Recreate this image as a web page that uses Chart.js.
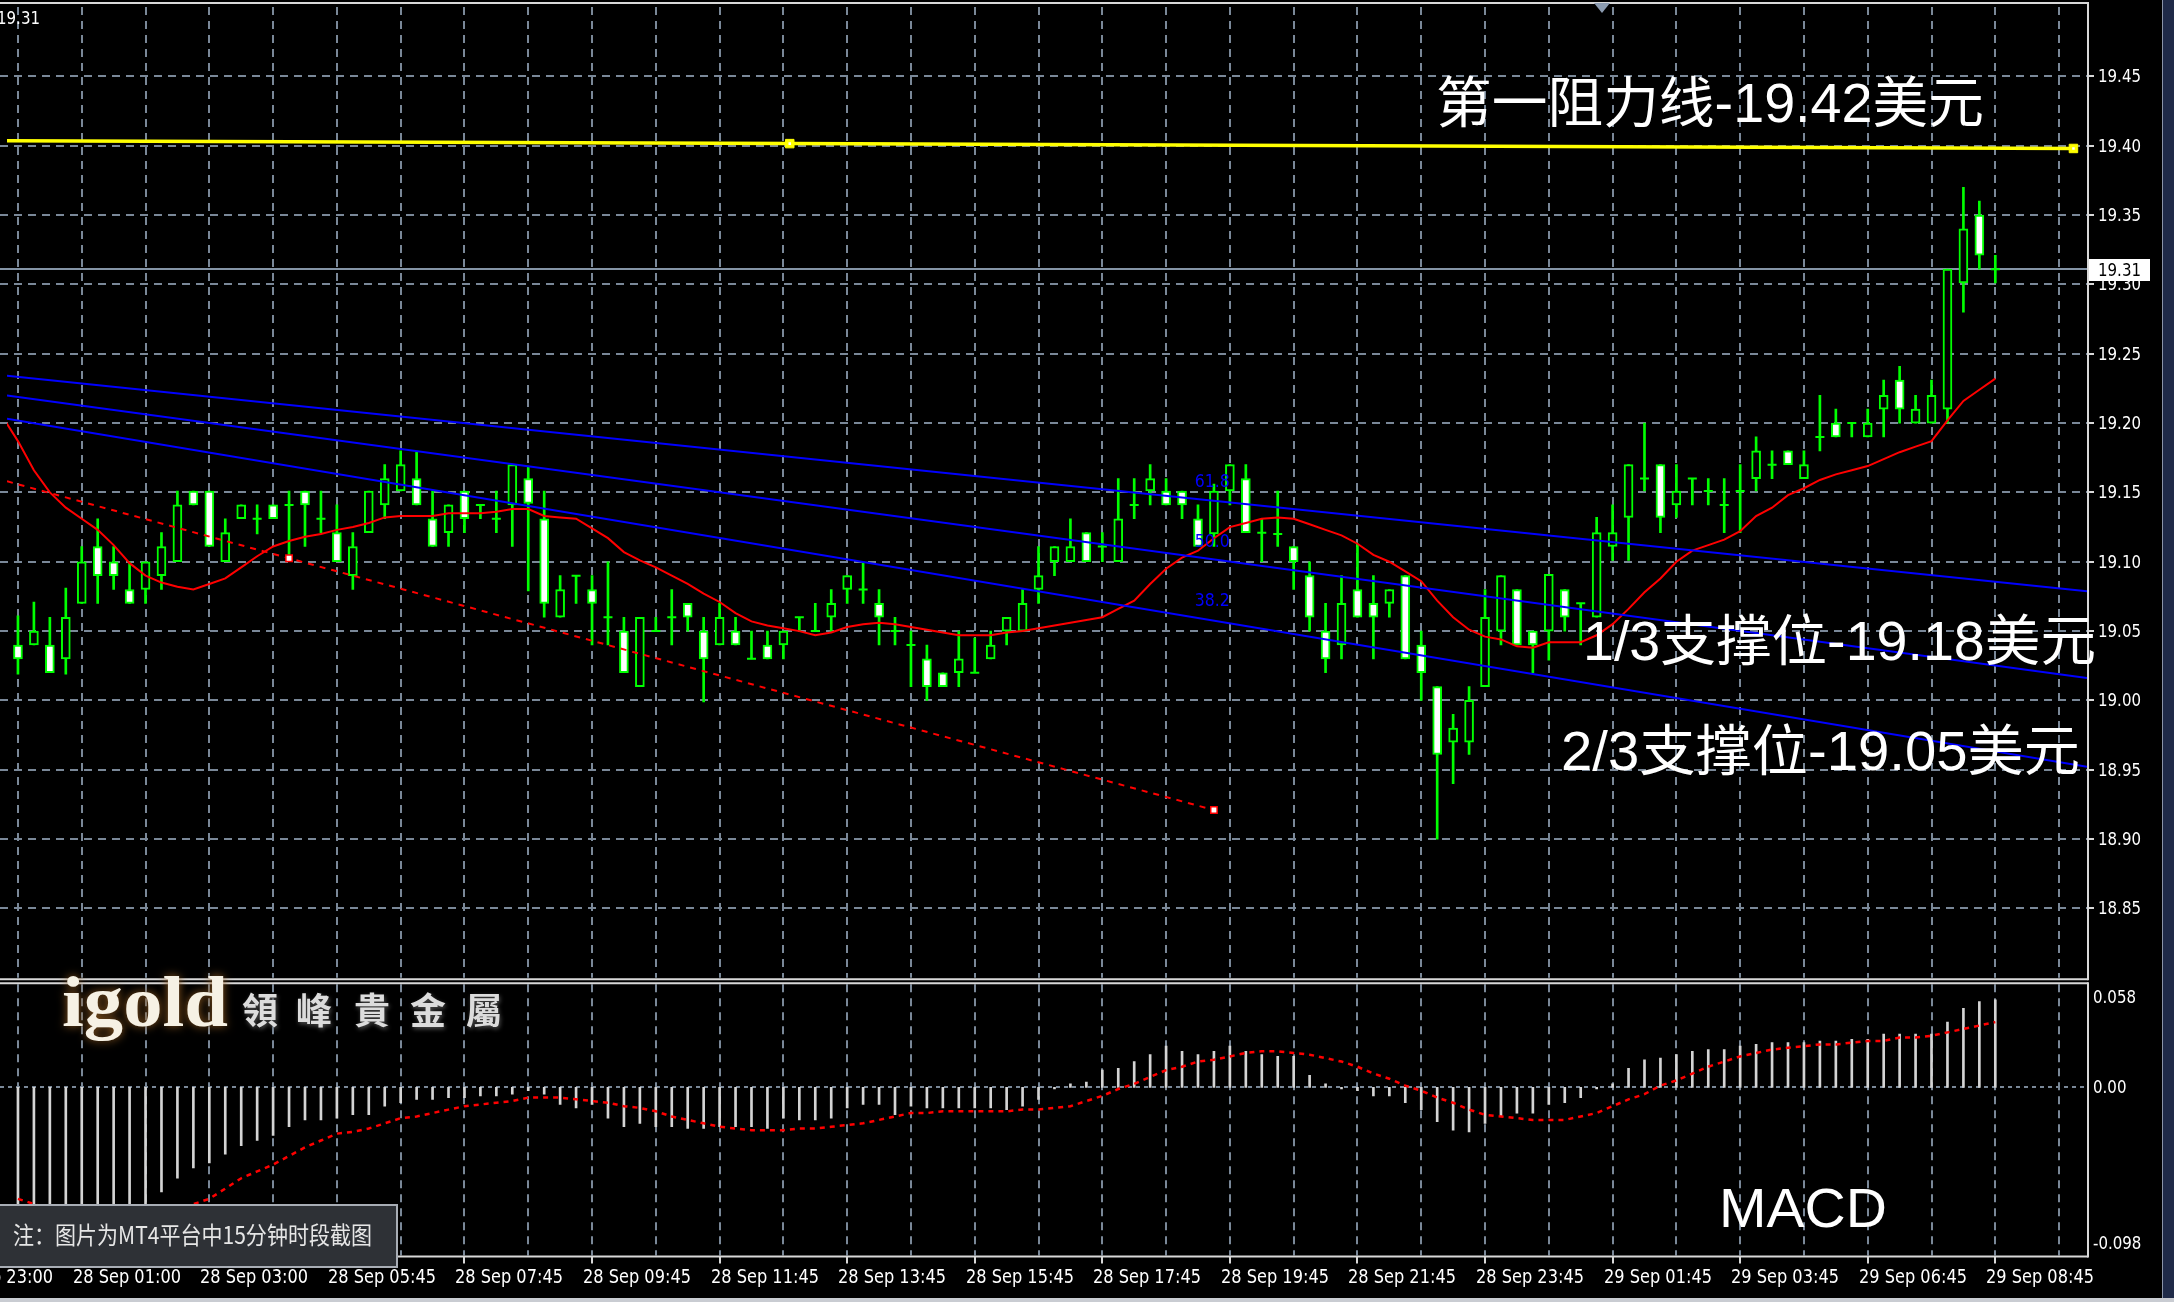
<!DOCTYPE html>
<html><head><meta charset="utf-8">
<script src="https://cdn.jsdelivr.net/npm/chart.js"></script>
<style>html,body{margin:0;padding:0;background:#000;overflow:hidden}canvas{display:block}</style>
</head><body>
<canvas id="c" width="2174" height="1302"></canvas>
<script>
// ---------------- data ----------------
const opens = [19.040,19.040,19.040,19.030,19.070,19.111,19.100,19.080,19.080,19.090,
 19.100,19.151,19.151,19.100,19.131,19.131,19.141,19.141,19.151,19.131,
 19.121,19.090,19.121,19.141,19.151,19.160,19.131,19.121,19.151,19.141,
 19.131,19.141,19.160,19.131,19.060,19.090,19.080,19.060,19.050,19.010,
 19.050,19.060,19.070,19.050,19.040,19.050,19.030,19.040,19.040,19.060,
 19.050,19.060,19.080,19.080,19.070,19.050,19.040,19.030,19.020,19.020,
 19.020,19.030,19.050,19.050,19.080,19.100,19.100,19.121,19.111,19.100,
 19.141,19.151,19.151,19.151,19.131,19.120,19.151,19.160,19.121,19.120,
 19.111,19.090,19.050,19.040,19.080,19.070,19.070,19.090,19.040,19.010,
 18.970,18.970,19.010,19.050,19.080,19.050,19.050,19.080,19.070,19.060,
 19.111,19.132,19.160,19.170,19.141,19.160,19.151,19.141,19.151,19.160,
 19.170,19.180,19.160,19.190,19.200,19.200,19.190,19.210,19.231,19.200,
 19.200,19.210,19.301,19.350,19.311];
const highs = [19.061,19.071,19.060,19.081,19.111,19.131,19.111,19.100,19.100,19.121,
 19.151,19.151,19.151,19.131,19.141,19.141,19.141,19.151,19.151,19.151,
 19.141,19.121,19.151,19.170,19.180,19.179,19.151,19.141,19.151,19.141,
 19.151,19.170,19.169,19.151,19.090,19.090,19.090,19.100,19.060,19.060,
 19.060,19.080,19.070,19.060,19.070,19.060,19.050,19.050,19.050,19.060,
 19.070,19.080,19.090,19.100,19.080,19.060,19.050,19.040,19.020,19.050,
 19.045,19.050,19.060,19.080,19.111,19.111,19.131,19.121,19.121,19.160,
 19.160,19.170,19.160,19.151,19.141,19.156,19.170,19.170,19.131,19.151,
 19.111,19.100,19.070,19.090,19.113,19.090,19.080,19.090,19.050,19.010,
 18.990,19.010,19.080,19.090,19.080,19.050,19.091,19.080,19.070,19.132,
 19.141,19.170,19.200,19.170,19.170,19.160,19.160,19.160,19.170,19.190,
 19.180,19.180,19.180,19.220,19.210,19.200,19.210,19.231,19.241,19.220,
 19.231,19.311,19.370,19.360,19.321];
const lows = [19.019,19.040,19.020,19.019,19.070,19.070,19.080,19.070,19.070,19.080,
 19.100,19.141,19.111,19.100,19.131,19.120,19.131,19.105,19.111,19.121,
 19.100,19.080,19.121,19.131,19.151,19.141,19.111,19.111,19.121,19.131,
 19.121,19.111,19.079,19.060,19.060,19.070,19.040,19.040,19.020,19.010,
 19.050,19.040,19.050,18.999,19.040,19.040,19.030,19.030,19.030,19.050,
 19.050,19.050,19.070,19.070,19.040,19.040,19.010,19.000,19.010,19.010,
 19.020,19.030,19.040,19.050,19.070,19.090,19.100,19.100,19.100,19.100,
 19.131,19.141,19.141,19.131,19.111,19.111,19.141,19.121,19.100,19.111,
 19.080,19.050,19.020,19.030,19.060,19.030,19.060,19.030,19.000,18.900,
 18.940,18.961,19.010,19.040,19.040,19.020,19.029,19.050,19.040,19.060,
 19.101,19.101,19.151,19.121,19.132,19.141,19.141,19.121,19.121,19.151,
 19.160,19.170,19.160,19.180,19.190,19.190,19.190,19.190,19.200,19.200,
 19.200,19.200,19.280,19.311,19.301];
const closes = [19.030,19.050,19.020,19.060,19.100,19.090,19.090,19.070,19.100,19.111,
 19.141,19.141,19.111,19.121,19.141,19.131,19.131,19.141,19.141,19.131,
 19.100,19.111,19.151,19.160,19.170,19.141,19.111,19.141,19.131,19.141,
 19.131,19.170,19.142,19.070,19.080,19.090,19.070,19.060,19.020,19.060,
 19.050,19.060,19.060,19.030,19.060,19.040,19.030,19.030,19.050,19.060,
 19.050,19.070,19.090,19.080,19.060,19.050,19.040,19.010,19.010,19.030,
 19.020,19.040,19.060,19.070,19.090,19.111,19.111,19.100,19.111,19.131,
 19.141,19.160,19.141,19.141,19.111,19.151,19.170,19.121,19.121,19.120,
 19.100,19.060,19.030,19.070,19.060,19.060,19.080,19.030,19.020,18.961,
 18.980,19.000,19.060,19.090,19.040,19.040,19.091,19.060,19.070,19.121,
 19.121,19.170,19.160,19.132,19.151,19.160,19.151,19.141,19.151,19.180,
 19.170,19.170,19.170,19.190,19.190,19.200,19.200,19.220,19.210,19.210,
 19.220,19.311,19.340,19.321,19.311];
// moving average, first value belongs to bar -1
const maFirstBar = -1;
const maValues = [19.205,
 19.187,19.166,19.150,19.139,19.131,19.123,19.112,19.099,19.090,19.085,
 19.082,19.080,19.084,19.088,19.096,19.104,19.111,19.115,19.118,19.120,
 19.123,19.125,19.128,19.132,19.133,19.133,19.133,19.135,19.135,19.135,
 19.136,19.138,19.138,19.133,19.132,19.131,19.124,19.117,19.107,19.101,
 19.096,19.090,19.084,19.077,19.071,19.063,19.057,19.054,19.052,19.050,
 19.047,19.049,19.053,19.055,19.056,19.055,19.053,19.051,19.049,19.047,
 19.047,19.047,19.049,19.050,19.052,19.054,19.056,19.058,19.060,19.066,
 19.072,19.084,19.095,19.103,19.108,19.117,19.125,19.128,19.131,19.132,
 19.131,19.127,19.123,19.119,19.113,19.105,19.100,19.093,19.086,19.072,
 19.060,19.051,19.046,19.044,19.039,19.038,19.042,19.042,19.042,19.047,
 19.055,19.066,19.078,19.088,19.100,19.108,19.112,19.116,19.122,19.133,
 19.139,19.148,19.153,19.159,19.163,19.166,19.169,19.174,19.179,19.183,
 19.187,19.202,19.216,19.224,19.232];
const macdHist = [-0.082,-0.090,-0.095,-0.098,-0.096,-0.092,-0.087,-0.080,-0.071,-0.061,
 -0.053,-0.047,-0.044,-0.039,-0.034,-0.031,-0.028,-0.023,-0.019,-0.019,
 -0.018,-0.016,-0.016,-0.011,-0.009,-0.007,-0.007,-0.006,-0.006,-0.005,
 -0.005,-0.004,-0.002,-0.004,-0.010,-0.012,-0.010,-0.018,-0.023,-0.021,
 -0.023,-0.023,-0.024,-0.024,-0.023,-0.023,-0.023,-0.024,-0.018,-0.019,
 -0.019,-0.018,-0.012,-0.010,-0.010,-0.016,-0.011,-0.012,-0.012,-0.012,
 -0.012,-0.012,-0.013,-0.011,-0.007,-0.001,0.002,0.003,0.010,0.011,
 0.015,0.019,0.024,0.021,0.019,0.021,0.024,0.021,0.019,0.018,
 0.018,0.007,0.002,-0.001,-0.002,-0.005,-0.005,-0.009,-0.013,-0.020,
 -0.025,-0.026,-0.021,-0.017,-0.015,-0.015,-0.010,-0.009,-0.006,-0.001,
 0.002,0.011,0.016,0.017,0.019,0.021,0.022,0.022,0.024,0.025,
 0.026,0.026,0.026,0.027,0.027,0.028,0.028,0.031,0.031,0.031,
 0.031,0.038,0.046,0.050,0.051];
const macdSignal = [-0.065,-0.068,-0.071,-0.073,-0.075,-0.076,-0.076,-0.076,-0.075,-0.073,
 -0.071,-0.068,-0.065,-0.059,-0.053,-0.049,-0.045,-0.040,-0.035,-0.031,
 -0.027,-0.026,-0.024,-0.021,-0.018,-0.017,-0.015,-0.013,-0.011,-0.010,
 -0.009,-0.008,-0.006,-0.006,-0.006,-0.007,-0.008,-0.009,-0.011,-0.012,
 -0.014,-0.017,-0.019,-0.021,-0.023,-0.024,-0.025,-0.025,-0.025,-0.024,
 -0.024,-0.023,-0.022,-0.021,-0.019,-0.017,-0.015,-0.015,-0.014,-0.014,
 -0.014,-0.014,-0.014,-0.013,-0.013,-0.012,-0.011,-0.008,-0.005,-0.001,
 0.002,0.006,0.010,0.012,0.015,0.016,0.018,0.020,0.021,0.021,
 0.020,0.019,0.017,0.015,0.012,0.008,0.005,0.001,-0.002,-0.006,
 -0.009,-0.013,-0.016,-0.017,-0.018,-0.019,-0.019,-0.019,-0.017,-0.015,
 -0.011,-0.007,-0.004,0.001,0.004,0.008,0.012,0.015,0.018,0.020,
 0.022,0.023,0.024,0.025,0.025,0.026,0.027,0.027,0.029,0.029,
 0.030,0.032,0.034,0.036,0.038];
const priceTicks = [19.45,19.40,19.35,19.30,19.25,19.20,19.15,19.10,19.05,19.00,18.95,18.90,18.85];
const macdTicks = [0.058, 0.00, -0.098];
const macdTickLabels = ['0.058','0.00','-0.098'];
const timeLabelBars = [-4,4,12,20,28,36,44,52,60,68,76,84,92,100,108,116,124];
const timeLabels = ['27 Sep 23:00','28 Sep 01:00','28 Sep 03:00','28 Sep 05:45','28 Sep 07:45','28 Sep 09:45','28 Sep 11:45','28 Sep 13:45','28 Sep 15:45','28 Sep 17:45','28 Sep 19:45','28 Sep 21:45','28 Sep 23:45','29 Sep 01:45','29 Sep 03:45','29 Sep 06:45','29 Sep 08:45'];
// drawn objects
const resistBars = [-0.6875, 48.4, 128.9];
const resistPrices = [19.4036, 19.4015, 19.398];
const trendBars = [-0.6875, 17, 75];
const trendPrices = [19.158, 19.1025, 18.921];
const fibLabels = ['61.8','50.0','38.2'];
const fibStartPrices = [19.2342, 19.2198, 19.2032];
const fibEndPrices = [19.0788, 19.0162, 18.9522];
const fibLabelBar = 73.8;
const fibLabelPrices = [19.154, 19.111, 19.068];
const currentPrice = closes[closes.length - 1];

// ---------------- layout constants ----------------
const X_MIN = -0.6875, X_MAX = 129.75;
const AREA_TOP = 5.5, AREA_BOTTOM = 1255.5;
const MAIN_BOTTOM = 977.5, MACD_TOP = 984;
const PRICE_MIN = 18.80, PRICE_MAX = 19.50;
const MACD_MIN = -0.098, MACD_MAX = 0.06;
const H = AREA_BOTTOM - AREA_TOP;
const ppuP = (MAIN_BOTTOM - AREA_TOP) / (PRICE_MAX - PRICE_MIN);
const ppuM = (AREA_BOTTOM - MACD_TOP) / (MACD_MAX - MACD_MIN);
const yMin = PRICE_MAX - H / ppuP, y2Max = MACD_MIN + H / ppuM;

const GREEN = '#00ff00', GRID = '#7a8898';

// ---------------- datasets ----------------
const wicks = opens.map((o, i) => ({x: i, y: [lows[i], highs[i]]}));
const bullBodies = [], bearBodies = [], dojis = [];
opens.forEach((o, i) => {
  const c = closes[i];
  if (c > o) bullBodies.push({x: i, y: [o, c]});
  else if (c < o) bearBodies.push({x: i, y: [c, o]});
  else dojis.push({x: i, y: o});
});
const maPts = maValues.map((v, k) => ({x: maFirstBar + k, y: v}));
const histPts = macdHist.map((v, i) => ({x: i, y: v}));
const sigPts = macdSignal.map((v, i) => ({x: i, y: v}));
const resistPts = resistBars.map((b, k) => ({x: b, y: resistPrices[k]}));
const trendPts = trendBars.map((b, k) => ({x: b, y: trendPrices[k]}));

const datasets = [
  {type:'bar', data: histPts, yAxisID:'y2', backgroundColor:'#d4d4d4', barThickness:2, grouped:false, order:30},
  {type:'line', data: sigPts, yAxisID:'y2', borderColor:'#ff0000', borderWidth:2.5, borderDash:[5,5], pointRadius:0, order:29},
  {type:'bar', data: wicks, yAxisID:'y', backgroundColor: GREEN, barThickness:2, grouped:false, order:25},
  {type:'bar', data: bullBodies, yAxisID:'y', backgroundColor:'#000', borderColor: GREEN, borderWidth:2, borderSkipped:false, barThickness:9, grouped:false, order:24},
  {type:'bar', data: bearBodies, yAxisID:'y', backgroundColor:'#fff', borderColor: GREEN, borderWidth:2, borderSkipped:false, barThickness:9, grouped:false, order:23},
  {type:'line', data: dojis, yAxisID:'y', showLine:false, pointStyle:'line', pointRadius:4.5, pointBorderWidth:2, pointBorderColor: GREEN, order:22},
  {type:'line', data: maPts, yAxisID:'y', borderColor:'#ff0000', borderWidth:2, pointRadius:0, order:12},
  {type:'line', data: trendPts, yAxisID:'y', borderColor:'#ff0000', borderWidth:2, borderDash:[6,6], pointRadius:0, order:11},
  {type:'line', data: resistPts, yAxisID:'y', borderColor:'#ffff00', borderWidth:3.5, pointRadius:0, order:10}
];
fibLabels.forEach((l, k) => {
  datasets.push({type:'line', data:[{x:X_MIN, y:fibStartPrices[k]}, {x:X_MAX, y:fibEndPrices[k]}], yAxisID:'y', borderColor:'#0000ff', borderWidth:2, pointRadius:0, order:9});
});
datasets.push({type:'line', data: resistPts.slice(1), yAxisID:'y', showLine:false, pointStyle:'rect', pointRadius:6, pointBackgroundColor:'#ffff00', pointBorderColor:'#ffff00', order:3});
datasets.push({type:'line', data: resistPts.slice(1), yAxisID:'y', showLine:false, pointStyle:'rect', pointRadius:1.8, pointBackgroundColor:'#ffffff', pointBorderWidth:0, order:2});
datasets.push({type:'line', data: trendPts.slice(1), yAxisID:'y', showLine:false, pointStyle:'rect', pointRadius:4.5, pointBackgroundColor:'#ffffff', pointBorderColor:'#ff0000', pointBorderWidth:1.5, order:2});

// ---------------- drawing helpers ----------------
function fitText(ctx, text, x, y, font, color, width, baseline) {
  ctx.save();
  ctx.font = font; ctx.fillStyle = color;
  ctx.textBaseline = baseline || 'alphabetic'; ctx.textAlign = 'left';
  const w = ctx.measureText(text).width;
  const sx = width ? width / w : 1;
  ctx.translate(x, y); ctx.scale(sx, 1);
  ctx.fillText(text, 0, 0);
  ctx.restore();
}
function scaledText(ctx, text, x, y, font, color, sx, baseline) {
  ctx.save();
  ctx.font = font; ctx.fillStyle = color;
  ctx.textBaseline = baseline || 'alphabetic'; ctx.textAlign = 'left';
  ctx.translate(x, y); ctx.scale(sx, 1);
  ctx.fillText(text, 0, 0);
  ctx.restore();
}
function hline(ctx, x0, x1, y) { ctx.beginPath(); ctx.moveTo(x0, y); ctx.lineTo(x1, y); ctx.stroke(); }
function vline(ctx, x, y0, y1) { ctx.beginPath(); ctx.moveTo(x, y0); ctx.lineTo(x, y1); ctx.stroke(); }

const AXIS_FONT = '18px "DejaVu Sans", sans-serif';
const TIME_FONT = '19px "DejaVu Sans", sans-serif';
const BIG_FONT = '55px "Liberation Sans", "Noto Sans CJK SC", sans-serif';

const mt4 = {
  id: 'mt4',
  beforeDraw(chart) {
    const ctx = chart.ctx;
    ctx.save(); ctx.fillStyle = '#000'; ctx.fillRect(0, 0, chart.width, chart.height); ctx.restore();
  },
  beforeDatasetsDraw(chart) {
    const {ctx, scales: {x, y, y2}} = chart;
    const right = chart.chartArea.right;
    const mt = y.getPixelForValue(PRICE_MAX), mb = y.getPixelForValue(PRICE_MIN);
    const qt = y2.getPixelForValue(MACD_MAX), qb = y2.getPixelForValue(MACD_MIN);
    ctx.save();
    ctx.strokeStyle = GRID; ctx.lineWidth = 2; ctx.setLineDash([8, 6]);
    for (let b = 0; b <= 128; b += 4) {
      const px = Math.round(x.getPixelForValue(b));
      vline(ctx, px, mt, mb); vline(ctx, px, qt, qb);
    }
    priceTicks.forEach(t => hline(ctx, 0, right, Math.round(y.getPixelForValue(t))));
    ctx.setLineDash([4, 4]);
    hline(ctx, 0, right, Math.round(y2.getPixelForValue(0)));
    ctx.setLineDash([]);
    ctx.strokeStyle = '#8494a6'; ctx.lineWidth = 2;
    hline(ctx, 0, right, Math.round(y.getPixelForValue(currentPrice)));
    ctx.restore();
  },
  afterDraw(chart) {
    const {ctx, scales: {x, y, y2}} = chart;
    const right = chart.chartArea.right;
    const mt = y.getPixelForValue(PRICE_MAX), mb = y.getPixelForValue(PRICE_MIN);
    const qt = y2.getPixelForValue(MACD_MAX), qb = y2.getPixelForValue(MACD_MIN);
    ctx.save();
    // frame
    ctx.strokeStyle = '#d8d8d8'; ctx.lineWidth = 2;
    hline(ctx, 0, right + 1, 3);
    hline(ctx, 0, right + 1, mb + 1.5);
    hline(ctx, 0, right + 1, qt - 1);
    hline(ctx, 0, right + 1, qb + 1);
    vline(ctx, right + 1, 2, mb + 2.5);
    vline(ctx, right + 1, qt - 2, qb + 2);
    // top shift marker
    ctx.fillStyle = '#8b9bb0';
    ctx.beginPath(); ctx.moveTo(1594, 3); ctx.lineTo(1610, 3); ctx.lineTo(1602, 13); ctx.closePath(); ctx.fill();

    // price axis labels
    ctx.font = AXIS_FONT;
    const axSx = 43 / ctx.measureText('19.45').width;
    priceTicks.forEach(t => {
      const py = Math.round(y.getPixelForValue(t));
      ctx.strokeStyle = '#d8d8d8'; ctx.lineWidth = 2; hline(ctx, right + 1, right + 7, py);
      scaledText(ctx, t.toFixed(2), 2098, py + 1, AXIS_FONT, '#ffffff', axSx, 'middle');
    });
    // MACD axis labels
    macdTicks.forEach((t, k) => {
      let py = y2.getPixelForValue(t);
      py = Math.min(Math.max(py, qt + 13), qb - 12);
      scaledText(ctx, macdTickLabels[k], 2093, py + 1, AXIS_FONT, '#ffffff', axSx, 'middle');
    });
    // current price box
    const cp = Math.round(y.getPixelForValue(currentPrice));
    ctx.fillStyle = '#ffffff'; ctx.fillRect(2089, cp - 10, 61, 22);
    scaledText(ctx, currentPrice.toFixed(2), 2098, cp + 2, AXIS_FONT, '#000000', axSx, 'middle');
    // top-left price
    scaledText(ctx, currentPrice.toFixed(2), -3, 19, AXIS_FONT, '#ffffff', axSx, 'middle');

    // time axis
    ctx.font = TIME_FONT;
    const tSx = 108 / ctx.measureText('28 Sep 07:45').width;
    timeLabelBars.forEach((b, k) => {
      const px = Math.round(x.getPixelForValue(b));
      ctx.strokeStyle = '#d8d8d8'; ctx.lineWidth = 2; vline(ctx, px, qb + 1, qb + 8);
      scaledText(ctx, timeLabels[k], px - 9, 1283, TIME_FONT, '#ffffff', tSx);
    });

    // fibonacci fan labels
    fibLabels.forEach((l, k) => {
      fitText(ctx, l, x.getPixelForValue(fibLabelBar), y.getPixelForValue(fibLabelPrices[k]), '17px "DejaVu Sans", sans-serif', '#0000ff', 35);
    });

    // annotations
    fitText(ctx, '第一阻力线-19.42美元', 1436, 122, BIG_FONT, '#ffffff', 548);
    fitText(ctx, '1/3支撑位-19.18美元', 1583, 660, BIG_FONT, '#ffffff', 513);
    fitText(ctx, '2/3支撑位-19.05美元', 1561, 770, BIG_FONT, '#ffffff', 519);
    fitText(ctx, 'MACD', 1719, 1227, BIG_FONT, '#ffffff', 168);

    // logo
    ctx.save();
    ctx.shadowColor = 'rgba(150,95,35,0.95)'; ctx.shadowBlur = 10;
    fitText(ctx, 'igold', 62, 1026, 'bold 72px "Liberation Serif", "DejaVu Serif", serif', '#f6f1e4', 166);
    ctx.restore();
    ctx.save();
    ctx.shadowColor = 'rgba(90,90,90,0.9)'; ctx.shadowBlur = 4; ctx.shadowOffsetX = 1; ctx.shadowOffsetY = 2;
    ctx.font = 'bold 36px "Noto Sans CJK TC", "Noto Sans CJK SC", sans-serif';
    ctx.fillStyle = '#dcdcdc'; ctx.textAlign = 'center'; ctx.textBaseline = 'middle';
    ['領','峰','貴','金','屬'].forEach((ch, k) => ctx.fillText(ch, [260, 314, 372, 428, 484][k], 1010));
    ctx.restore();

    // note box
    ctx.fillStyle = '#2e3136'; ctx.fillRect(0, 1204, 398, 63);
    ctx.strokeStyle = '#a8adb5'; ctx.lineWidth = 2; ctx.strokeRect(-2, 1205, 399, 62);
    fitText(ctx, '注：图片为MT4平台中15分钟时段截图', 13, 1244, '24px "Noto Sans CJK SC", sans-serif', '#e6e6e6', 359);

    // window edges
    ctx.fillStyle = '#1f2a48'; ctx.fillRect(2163, 0, 11, 1302);
    ctx.fillStyle = '#8a94a8'; ctx.fillRect(2162, 0, 1, 1302);
    ctx.fillStyle = '#c9ccd2'; ctx.fillRect(0, 1298, 2174, 4);
    ctx.restore();
  }
};

new Chart(document.getElementById('c'), {
  type: 'line',
  data: { datasets },
  options: {
    responsive: false, devicePixelRatio: 1, animation: false, events: [],
    layout: { padding: { left: 0, top: AREA_TOP, right: 2174 - 2087, bottom: 1302 - AREA_BOTTOM } },
    plugins: { legend: { display: false }, tooltip: { enabled: false } },
    scales: {
      x: { type: 'linear', min: X_MIN, max: X_MAX, display: false, offset: false },
      y: { type: 'linear', min: yMin, max: PRICE_MAX, display: false },
      y2: { type: 'linear', min: MACD_MIN, max: y2Max, display: false }
    },
    elements: { line: { tension: 0 } }
  },
  plugins: [mt4]
});
</script>
</body></html>
